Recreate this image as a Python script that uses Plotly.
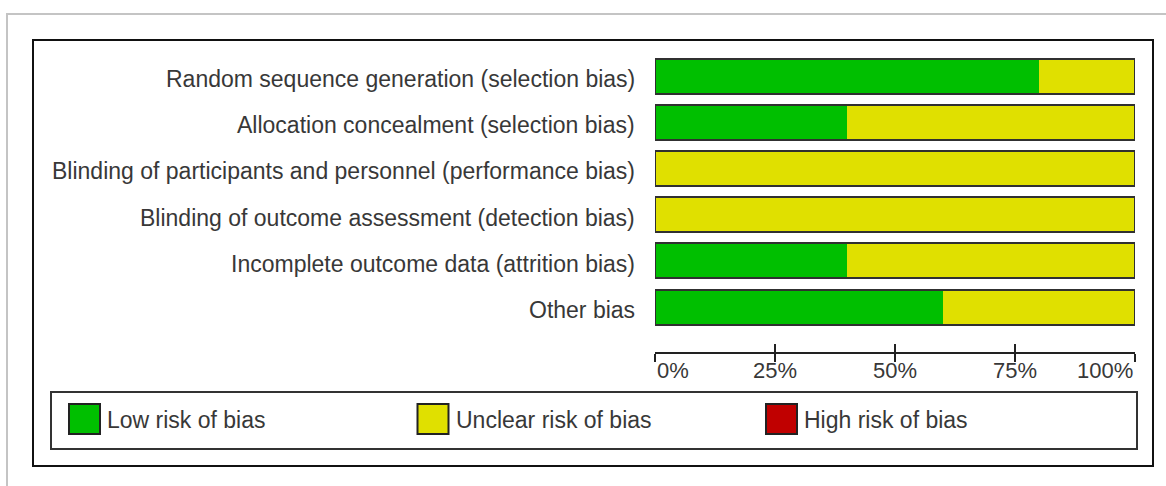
import plotly.graph_objects as go

# ---- data ----
domains = [
    "Random sequence generation (selection bias)",
    "Allocation concealment (selection bias)",
    "Blinding of participants and personnel (performance bias)",
    "Blinding of outcome assessment (detection bias)",
    "Incomplete outcome data (attrition bias)",
    "Other bias",
]
low_risk = [80, 40, 0, 0, 40, 60]
unclear_risk = [20, 60, 100, 100, 60, 40]
high_risk = [0, 0, 0, 0, 0, 0]
series_names = ["Low risk of bias", "Unclear risk of bias", "High risk of bias"]
series_colors = ["#00bf00", "#e0e000", "#c00000"]
tick_vals = [0, 25, 50, 75, 100]
tick_text = ["0%", "25%", "50%", "75%", "100%"]

W, H = 1166, 486
FONT = "Liberation Sans, Arial, sans-serif"
TXT = "#383838"
EDGE = "#222222"


def fx(px):
    return px / W


def fy(py):
    return 1 - py / H


fig = go.Figure()
series_vals = [low_risk, unclear_risk, high_risk]
for name, vals, col in zip(series_names, series_vals, series_colors):
    fig.add_trace(go.Bar(
        y=domains, x=vals, orientation="h", name=name,
        marker=dict(color=col, line=dict(width=0)),
        width=0.76, showlegend=False, xaxis="x", yaxis="y",
        hoverinfo="x+y",
    ))

totals = [a + b + c for a, b, c in zip(low_risk, unclear_risk, high_risk)]
fig.add_trace(go.Bar(
    y=domains, x=totals, orientation="h", name="outline",
    marker=dict(color="rgba(0,0,0,0)", line=dict(color="#303030", width=2)),
    width=0.76, showlegend=False, xaxis="x2", yaxis="y", hoverinfo="skip",
))

row_top, row_step = 52.9, 46.2
y_top = row_top
y_bot = row_top + row_step * len(domains)
axis_y = 353

fig.update_layout(
    width=W, height=H,
    margin=dict(l=0, r=0, t=0, b=0),
    paper_bgcolor="white", plot_bgcolor="white",
    barmode="stack", bargap=0,
    font=dict(family=FONT, color=TXT, size=23),
    xaxis=dict(
        domain=[fx(655), fx(1135)], range=[0, 100], anchor="free",
        position=fy(axis_y), showline=True, linecolor=EDGE, linewidth=2,
        ticks="outside", ticklen=8, tickwidth=2, tickcolor=EDGE,
        tickvals=tick_vals, showticklabels=False, showgrid=False,
        zeroline=False, fixedrange=True,
    ),
    xaxis2=dict(
        overlaying="x", range=[0, 100], anchor="free", position=fy(axis_y),
        showline=False, ticks="inside", ticklen=9, tickwidth=2,
        tickcolor=EDGE, tickvals=tick_vals, showticklabels=False,
        showgrid=False, zeroline=False, fixedrange=True,
    ),
    yaxis=dict(
        domain=[fy(y_bot), fy(y_top)], type="category",
        categoryarray=domains, range=[len(domains) - 0.5, -0.5],
        showline=False, ticks="", showticklabels=False,
        showgrid=False, zeroline=False, fixedrange=True,
    ),
)

shapes = []
# outer grey frame
shapes.append(dict(type="line", xref="paper", yref="paper",
                   x0=fx(7), x1=fx(7), y0=0, y1=fy(14),
                   line=dict(color="#c4c4c4", width=2)))
shapes.append(dict(type="line", xref="paper", yref="paper",
                   x0=fx(6), x1=1, y0=fy(14), y1=fy(14),
                   line=dict(color="#c4c4c4", width=2)))
# black figure frame
shapes.append(dict(type="rect", xref="paper", yref="paper",
                   x0=fx(33), x1=fx(1153), y0=fy(466), y1=fy(40),
                   line=dict(color="#111111", width=2)))
# legend box
shapes.append(dict(type="rect", xref="paper", yref="paper",
                   x0=fx(51), x1=fx(1137), y0=fy(449), y1=fy(392),
                   line=dict(color="#333333", width=2)))

annotations = []
# domain labels (category positions from the y axis)
for d in domains:
    annotations.append(dict(
        x=fx(637), xref="paper", y=d, yref="y", yshift=-3, text=d,
        showarrow=False, xanchor="right", yanchor="middle",
        font=dict(size=23, color=TXT, family=FONT),
    ))

for v, t in zip(tick_vals, tick_text):
    anchor = "left" if v == tick_vals[0] else ("right" if v == tick_vals[-1] else "center")
    annotations.append(dict(
        x=v, xref="x", y=fy(370), yref="paper", text=t, showarrow=False,
        xanchor=anchor, yanchor="middle",
        font=dict(size=22, color=TXT, family=FONT),
    ))

leg_x0, leg_step, sq = 69, 348.5, 31
for i, (name, col) in enumerate(zip(series_names, series_colors)):
    x0 = leg_x0 + i * leg_step
    shapes.append(dict(type="rect", xref="paper", yref="paper",
                       x0=fx(x0), x1=fx(x0 + sq), y0=fy(434), y1=fy(404),
                       fillcolor=col, line=dict(color="#222222", width=2)))
    annotations.append(dict(
        x=fx(x0 + sq + 5), xref="paper", y=fy(420), yref="paper",
        text=name, showarrow=False, xanchor="left", yanchor="middle",
        font=dict(size=23, color=TXT, family=FONT),
    ))

fig.update_layout(shapes=shapes, annotations=annotations)
fig.write_html(
    "out.html",
    config={"displayModeBar": False},
    post_script="document.body.style.margin='0';document.body.style.overflow='hidden';",
)
